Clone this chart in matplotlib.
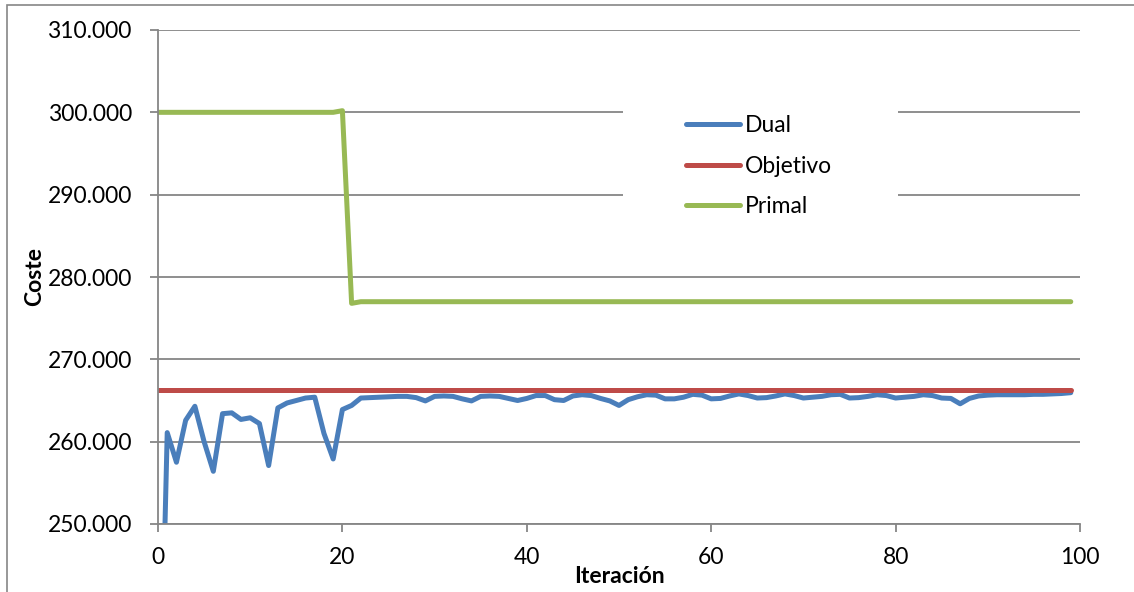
import matplotlib
matplotlib.use("Agg")
import matplotlib.pyplot as plt
from matplotlib.patches import Rectangle
from matplotlib.ticker import FuncFormatter

plt.rcParams['font.family'] = ['Lato', 'DejaVu Sans']

# data
iteraciones = list(range(100))
dual = [215000, 261100, 257500, 262600, 264300, 260000, 256400, 263400, 263500, 262700,
        262900, 262200, 257100, 264100, 264700, 265000, 265300, 265400, 261000, 257900,
        263900, 264400, 265300, 265350, 265400, 265450, 265500, 265500, 265350, 264950,
        265500, 265550, 265500, 265200, 264950, 265500, 265550, 265500, 265250, 265000,
        265250, 265600, 265600, 265100, 265000, 265550, 265700, 265600, 265250, 264950,
        264400, 265100, 265450, 265700, 265650, 265200, 265200, 265400, 265750, 265650,
        265200, 265250, 265550, 265800, 265600, 265300, 265350, 265550, 265800, 265600,
        265300, 265400, 265500, 265700, 265750, 265300, 265350, 265500, 265700, 265600,
        265300, 265400, 265500, 265700, 265600, 265300, 265250, 264600, 265250, 265550,
        265650, 265700, 265700, 265700, 265700, 265750, 265750, 265800, 265850, 265950]
objetivo = [266300] * len(iteraciones)
primal = [300000] * 20 + [300200, 276800] + [277000] * 78

series = [("Dual", dual, "#4A7EBB"),
          ("Objetivo", objetivo, "#BE4B48"),
          ("Primal", primal, "#98B954")]

W, H = 1134, 592
fs = 16.5
fig = plt.figure(figsize=(W / 100, H / 100), dpi=100)
ax = fig.add_axes([158 / W, 1 - 524 / H, (1080 - 158) / W, (524 - 30) / H])

grey = "#868686"

for name, vals, col in series:
    ax.plot(iteraciones, vals, color=col, lw=3.6, label=name,
            solid_capstyle="round", solid_joinstyle="round", zorder=2)

ax.set_xlim(0, 100)
ax.set_ylim(250000, 310000)
ax.set_xticks(range(0, 101, 20))
ax.set_yticks(range(250000, 310001, 10000))
ax.yaxis.set_major_formatter(FuncFormatter(lambda v, p: f"{int(v):,}".replace(",", ".")))

ax.set_axisbelow(True)
ax.grid(axis="y", color=grey, lw=1.3)
for s in ("top", "right"):
    ax.spines[s].set_visible(False)
for s in ("left", "bottom"):
    ax.spines[s].set_color(grey)
    ax.spines[s].set_linewidth(1.3)
ax.tick_params(axis="both", direction="out", length=5.8, width=1.3, color=grey,
               labelsize=fs, labelcolor="black")
ax.tick_params(axis="y", pad=13)
ax.tick_params(axis="x", pad=11)

ax.set_ylabel("Coste", fontsize=fs, fontweight="bold")
ax.yaxis.set_label_coords(-0.122, 0.5)
ax.set_xlabel("Iteración", fontsize=fs, fontweight="bold")
ax.xaxis.set_label_coords(0.5, -0.086)

# white legend area covering the gridlines
ax.add_patch(Rectangle((623 / W, 1 - 228 / H), 275 / W, 128 / H, transform=fig.transFigure,
                       facecolor="white", edgecolor="none", zorder=1))
leg = ax.legend(loc="upper left", bbox_to_anchor=(686 / W, 1 - 115 / H),
                bbox_transform=fig.transFigure, frameon=False, fontsize=fs,
                handlelength=2.36, handletextpad=0.22, labelspacing=0.86,
                borderpad=0, borderaxespad=0)
leg.set_zorder(5)

# outer chart border
fig.patches.append(Rectangle((7 / W, -0.1), 2, 1 - 5 / H + 0.1, transform=fig.transFigure,
                             fill=False, edgecolor=grey, lw=1.2))

fig.savefig("out.png", dpi=100)
